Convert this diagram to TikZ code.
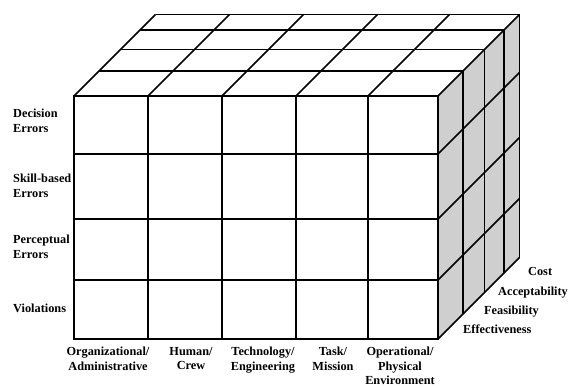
\documentclass[tikz,border=0pt]{standalone}
\usepackage{fontspec}
\setmainfont{Liberation Serif}
\usepackage{tikz}

\tikzset{
  grid line/.style={line width=1.7pt},
  side face/.style={fill=black!19},
  lbl/.style={inner sep=0pt, font=\fontsize{12.3}{14.5}\selectfont\bfseries},
}

\begin{document}
\begin{tikzpicture}[x=1pt,y=-1pt]
        \useasboundingbox (0,0) rectangle (568,388);

        % shaded side
        \fill[side face] (438,96) -- (519.5,14.5) -- (519.5,257.5) -- (438,339) -- cycle;

        % front face
        \draw[grid line] (74,96) rectangle (438,339);
        \draw[grid line] (148,96) -- (148,339);
        \draw[grid line] (222,96) -- (222,339);
        \draw[grid line] (296,96) -- (296,339);
        \draw[grid line] (368,96) -- (368,339);
        \draw[grid line] (74,154) -- (438,154);
        \draw[grid line] (74,219) -- (438,219);
        \draw[grid line] (74,280) -- (438,280);

        % top face
        \draw[grid line] (99,71) -- (463,71);
        \draw[grid line] (120.5,49.5) -- (484.5,49.5);
        \draw[grid line] (140,30) -- (504,30);
        \draw[grid line] (155.5,14.5) -- (519.5,14.5);
        \draw[grid line] (74,96) -- (155.5,14.5);
        \draw[grid line] (148,96) -- (229.5,14.5);
        \draw[grid line] (222,96) -- (303.5,14.5);
        \draw[grid line] (296,96) -- (377.5,14.5);
        \draw[grid line] (368,96) -- (449.5,14.5);
        \draw[grid line] (438,96) -- (519.5,14.5);

        % right face
        \draw[grid line] (463,71) -- (463,314);
        \draw[grid line] (484.5,49.5) -- (484.5,292.5);
        \draw[grid line] (504,30) -- (504,273);
        \draw[grid line] (519.5,14.5) -- (519.5,257.5);
        \draw[grid line] (438,154) -- (519.5,72.5);
        \draw[grid line] (438,219) -- (519.5,137.5);
        \draw[grid line] (438,280) -- (519.5,198.5);
        \draw[grid line] (438,339) -- (519.5,257.5);

        % error types
        \node[lbl, anchor=west, align=left] (decision) at (13,121) {Decision\\Errors};
        \node[lbl, anchor=west, align=left] (skill) at (13,186) {Skill-based\\Errors};
        \node[lbl, anchor=west, align=left] (percept) at (13,247) {Perceptual\\Errors};
        \node[lbl, anchor=base west] (violate) at (13,312) {Violations};

        % intervention approaches
        \node[lbl, anchor=north, align=center] (org) at (108,347) {Organizational/\\Administrative};
        \node[lbl, anchor=north, align=center] (human) at (191,347) {Human/\\Crew};
        \node[lbl, anchor=north, align=center] (tech) at (263,347) {Technology/\\Engineering};
        \node[lbl, anchor=north, align=center] (task) at (333,347) {Task/\\Mission};
        \node[lbl, anchor=north, align=center] (oper) at (400,347) {Operational/\\Physical\\Environment};

        % criteria
        \node[lbl, anchor=base west] (eff) at (463,333) {Effectiveness};
        \node[lbl, anchor=base west] (feas) at (484,314) {Feasibility};
        \node[lbl, anchor=base west] (accept) at (498,295) {Acceptability};
        \node[lbl, anchor=base west] (cost) at (528,275) {Cost};
    \end{tikzpicture}
\end{document}
